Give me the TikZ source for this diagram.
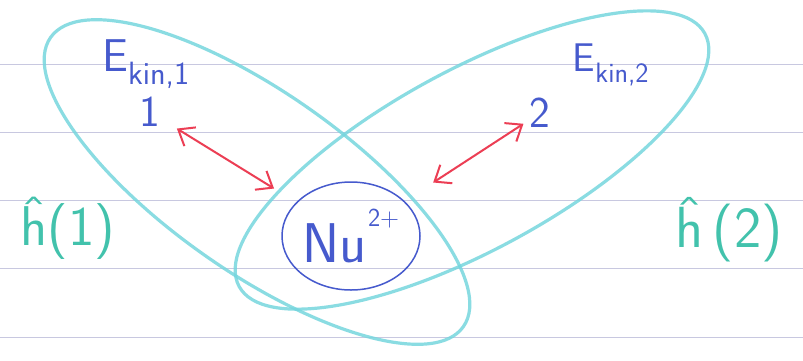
\documentclass[tikz,border=0pt]{standalone}
\usepackage{fontspec}
\usepackage{tikz}
\usetikzlibrary{shapes.geometric, arrows.meta}
\definecolor{inkblue}{RGB}{70, 90, 205}
\definecolor{inkred}{RGB}{236, 62, 84}
\definecolor{markercyan}{RGB}{118, 214, 222}
\definecolor{markerteal}{RGB}{66, 194, 172}
\definecolor{paperline}{RGB}{200, 200, 224}

\begin{document}
\begin{tikzpicture}[
    x=1pt, y=-1pt,
    ruling/.style={paperline, line width=1pt},
    orbit/.style={markercyan, line width=3.2pt, opacity=0.85},
    inktext/.style={inkblue, inner sep=1pt, font=\sffamily},
    hamilton/.style={markerteal, inner sep=1pt, font=\fontsize{56}{60}\selectfont\sffamily},
    coulomb/.style={<->, >={Straight Barb[length=14pt, width=22pt]}, inkred, line width=2pt}
]
\useasboundingbox[fill=white] (0,0) rectangle (803,360);

% Ruled paper
\foreach \y in {64,132,200,268,337}
    \draw[ruling] (0,\y) -- (803,\y);

% One-electron regions
\draw[orbit, rotate around={-35:(257,182)}] (257,182) ellipse (252 and 90);
\draw[orbit, rotate around={28.5:(472,160)}] (472,160) ellipse (265 and 90);

% Electrons
\node[inktext, font=\fontsize{46}{50}\selectfont\sffamily] (ekin1) at (146,64) {E\textsubscript{kin,1}};
\node[inktext, font=\fontsize{44}{48}\selectfont\sffamily] (one) at (150,112) {1};
\node[inktext, font=\fontsize{40}{44}\selectfont\sffamily] (ekin2) at (611,65) {E\textsubscript{kin,2}};
\node[inktext, font=\fontsize{44}{48}\selectfont\sffamily] (two) at (540,113) {2};

% Nucleus
\node[ellipse, draw=inkblue, line width=1.5pt, minimum width=138pt, minimum height=108pt, inner sep=0pt,
      text=inkblue, font=\fontsize{56}{60}\selectfont\sffamily] (nuc) at (351,236)
      {Nu\kern1pt\raisebox{36pt}{\fontsize{26}{26}\selectfont 2+}};

% Electron-nucleus attraction
\draw[coulomb, shorten <=18pt, shorten >=26pt] (one) -- (nuc);
\draw[coulomb, shorten <=6pt, shorten >=34pt] (two) -- (nuc);

% One-electron operators
\node[hamilton] (h1) at (68,228) {ĥ(1)};
\node[hamilton, font=\fontsize{58}{62}\selectfont\sffamily] (h2) at (729,230) {ĥ\,(2)};
\end{tikzpicture}
\end{document}
